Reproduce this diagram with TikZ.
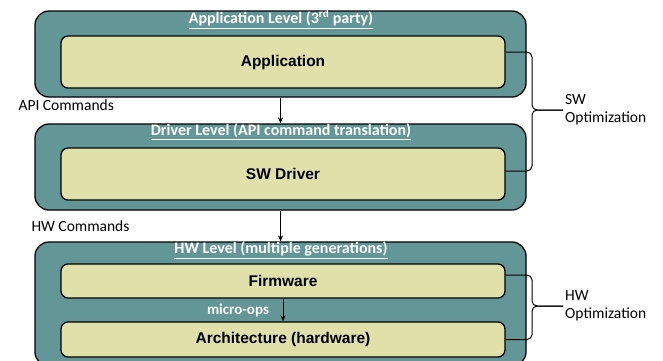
\documentclass[tikz,border=0pt]{standalone}
\usepackage{fontspec}
\setmainfont{Carlito}
\newfontfamily\arialfont{Liberation Sans}
\usepackage{xcolor}
\usetikzlibrary{arrows.meta}
\definecolor{levelteal}{RGB}{99,150,150}
\definecolor{blockcream}{RGB}{224,224,170}

\begin{document}
\begin{tikzpicture}[x=1pt,y=-1pt,
	level/.style={draw=black, line width=1.3pt, fill=levelteal, rounded corners=14pt, minimum width=491pt},
	block/.style={draw=black, line width=1.3pt, fill=blockcream, rounded corners=7pt, minimum width=444pt, font=\arialfont\bfseries\fontsize{15.5}{18}\selectfont},
	title/.style={text=white, font=\bfseries\fontsize{16}{18}\selectfont},
	cmd/.style={anchor=west, font=\fontsize{15.5}{18}\selectfont},
	flow/.style={-{Stealth[length=6pt,width=5pt]}, line width=1pt},
	brace/.style={line width=1pt, rounded corners=5pt}]
	\clip (0,0) rectangle (663,360);
	
	% Draw the three levels
	\node[level, minimum height=86pt] (applvl) at (280.5,54) {};
	\node[level, minimum height=86pt] (drvlvl) at (280.5,167) {};
	\node[level, minimum height=124pt] (hwlvl) at (280.5,304) {};
	
	% Level titles
	\node[title] (apptitle) at (281,19) {\underline{Application Level (3\textsuperscript{rd} party)}};
	\node[title] (drvtitle) at (281,132) {\underline{Driver Level (API command translation)}};
	\node[title] (hwtitle) at (281,250) {\underline{HW Level (multiple generations)}};
	
	% Blocks inside the levels
	\node[block, minimum height=52pt] (app) at (283,62) {Application};
	\node[block, minimum height=52pt] (drv) at (283,174) {SW Driver};
	\node[block, minimum height=34pt] (fw) at (283,281) {Firmware};
	\node[block, minimum height=35pt] (arch) at (283,339.5) {Architecture (hardware)};
	
	% Commands between the levels
	\draw[flow] (applvl) -- (drvlvl);
	\draw[flow] (drvlvl) -- (hwlvl);
	\draw[flow] (fw) -- (arch);
	\node[cmd] (apicmd) at (15,105) {API Commands};
	\node[cmd] (hwcmd) at (28,226) {HW Commands};
	\node[text=white, font=\bfseries\fontsize{15}{17}\selectfont] (uops) at (238,310) {micro-ops};
	
	% Braces for the optimizations
	\node[cmd, align=left, inner sep=2pt] (swopt) at (563,110) {SW\\Optimization};
	\node[cmd, align=left, inner sep=2pt] (hwopt) at (563,306) {HW\\Optimization};
	\draw[brace] ([yshift=10pt]app.east) -| (532,110) -- (swopt.west);
	\draw[brace] ([yshift=3pt]drv.east) -| (532,110) -- (swopt.west);
	\draw[brace] ([yshift=6pt]fw.east) -| (532,306) -- (hwopt.west);
	\draw[brace] (arch.east) -| (532,306) -- (hwopt.west);
\end{tikzpicture}
\end{document}
